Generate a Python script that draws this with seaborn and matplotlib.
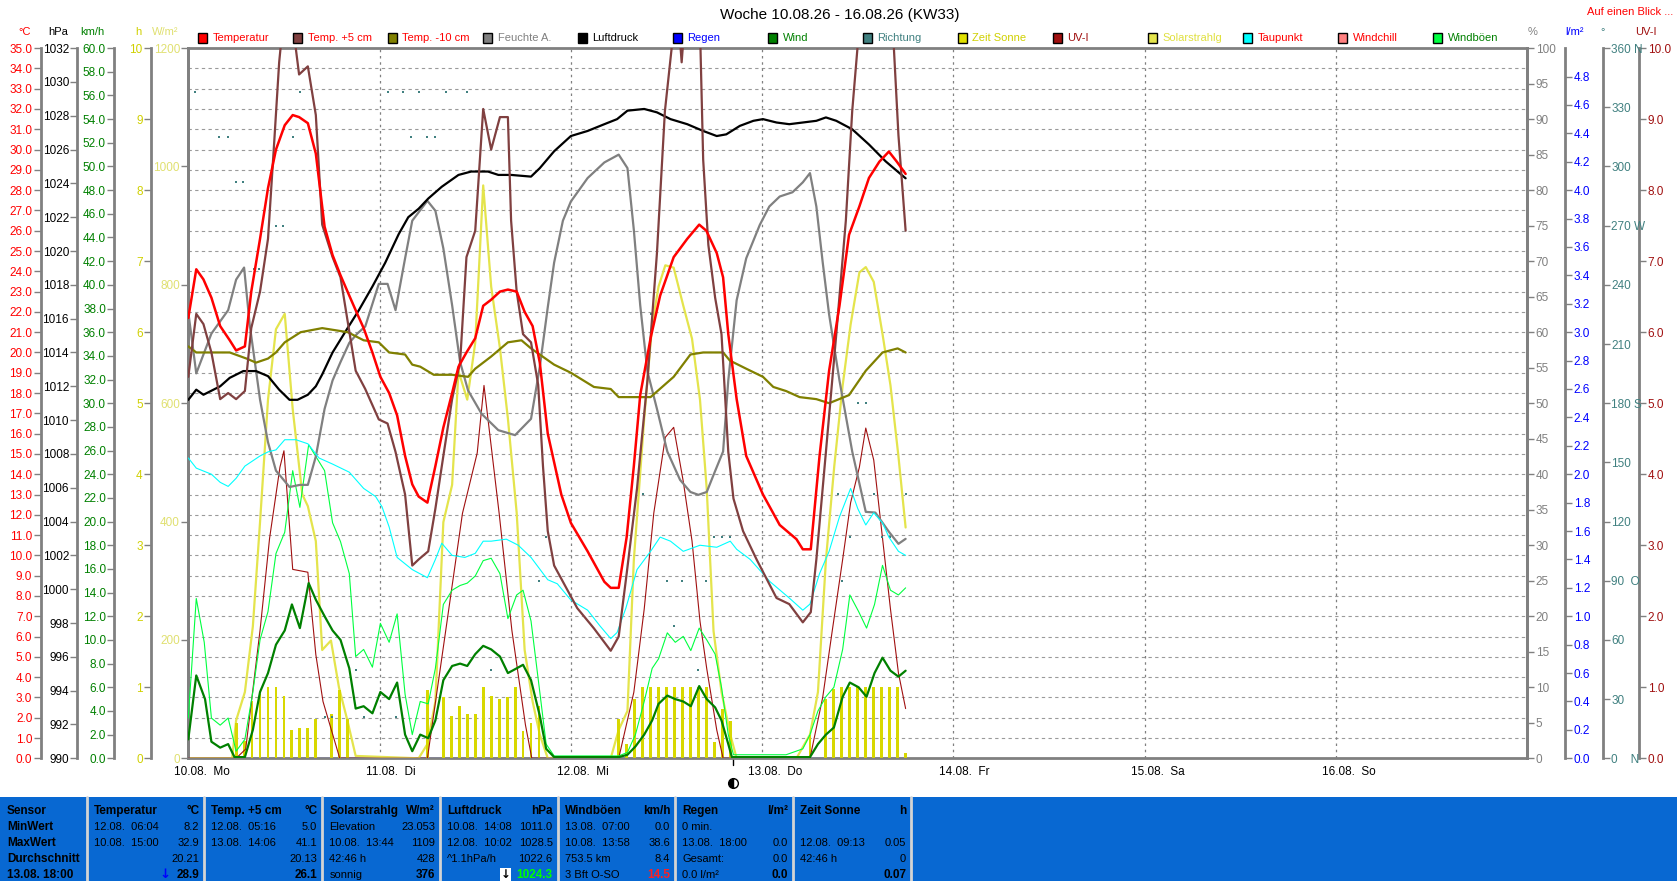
import numpy as np
import pandas as pd
import matplotlib
matplotlib.use("Agg")
import matplotlib.pyplot as plt
from matplotlib.patches import Rectangle
from matplotlib.transforms import blended_transform_factory
import seaborn as sns

# ---------------- data (hours since 10.08. 00:00, value) ----------------
temperature = [(0, 21.7), (1, 24.1), (1.9, 23.6), (2.9, 22.7), (4, 21.3), (5.2, 20.6), (6, 20.1), (7.1, 20.3),
               (7.9, 23.0), (9, 25.6), (10, 28.1), (11, 30.0), (12.1, 31.2), (13.1, 31.7), (13.9, 31.6), (15, 31.3),
               (16, 29.8), (17.1, 26.2), (18.1, 24.8), (19.1, 23.8), (20.2, 22.8), (21.2, 21.9), (22, 21.2),
               (23.1, 20.0), (24.1, 18.8), (25.2, 18.0), (26.2, 16.9), (27.2, 14.9), (28.1, 13.5), (28.9, 12.9),
               (30, 12.6), (31, 14.4), (32, 16.3), (33.1, 18.0), (33.9, 19.3), (34.9, 20.0), (36, 20.7), (37, 22.3),
               (38, 22.6), (39.1, 23.0), (40.1, 23.1), (41.2, 23.0), (42.2, 22.0), (43.2, 21.3), (44.1, 19.5),
               (45.1, 16.0), (46.8, 13.0), (48, 11.6), (50.1, 10.2), (52.2, 8.7), (53, 8.4), (54, 8.4), (55, 10.9),
               (55.9, 14.4), (56.7, 17.9), (58, 20.7), (59.2, 22.8), (60.9, 24.7), (62.6, 25.6), (64.1, 26.3),
               (65, 26.0), (66.3, 24.9), (67.1, 23.7), (67.75, 20.9), (68.8, 17.7), (70, 14.9), (72.1, 13.0),
               (74.2, 11.5), (76.3, 10.8), (77.1, 10.3), (78.1, 10.3), (79.2, 14.9), (80.4, 19.1), (81.7, 22.3),
               (82.9, 25.8), (84.2, 27.2), (85.4, 28.6), (86.7, 29.4), (87.9, 29.9), (88.9, 29.4), (90, 28.8)]

temp_plus5 = [(0, 18.8), (1, 21.9), (1.9, 21.4), (2.9, 20.0), (4, 17.7), (5, 18.0), (6, 17.7), (7.1, 18.1),
              (7.9, 21.2), (9, 23.0), (10, 25.6), (10.8, 30.5), (11.4, 34.3), (12.2, 37.5), (13.0, 36.5),
              (13.9, 33.7), (15, 34.1), (16, 31.7), (16.8, 26.3), (18.1, 24.7), (19.1, 23.7), (21, 19.1),
              (22.2, 18.2), (23.9, 16.7), (25, 16.5), (26, 15.1), (27.2, 13.0), (28.1, 9.5), (28.9, 9.8),
              (30.1, 10.2), (31, 12.3), (32, 14.9), (33.1, 17.7), (34.1, 19.5), (34.9, 24.7), (36, 26.0),
              (37, 32.0), (38, 30.0), (39.1, 31.6), (40.1, 31.6), (40.5, 26.5), (41.2, 23.0), (42, 20.9),
              (43, 20.5), (43.9, 18.4), (44.5, 14.4), (45.1, 11.2), (45.9, 9.5), (48.8, 7.4), (50.9, 6.4),
              (53, 5.3), (54, 6.0), (55, 9.1), (56.3, 13.3), (57.6, 18.6), (58.8, 24.9), (59.8, 31.9),
              (60.7, 35.2), (61.3, 37.5), (61.9, 34.3), (62.6, 38.0), (63.5, 39.5), (64.2, 36.0), (64.6, 29.5),
              (65.25, 25.3), (66.1, 22.7), (66.9, 20.9), (67.75, 15.1), (68.4, 12.8), (69.6, 11.2), (71.3, 9.8),
              (73.8, 7.9), (75.4, 7.6), (77.1, 6.7), (78.1, 7.2), (78.8, 9.8), (80, 15.1), (81.3, 20.9),
              (82.5, 26.5), (83.3, 31.9), (84, 35.2), (85, 39.0), (86.1, 41.1), (87.5, 39.5), (88.5, 35.2),
              (89.1, 30.7), (90, 26.0)]

temp_minus10 = [(0, 20.3), (1, 20.0), (5.2, 20.0), (7.3, 19.7), (8.5, 19.5), (10, 19.7), (11, 20.0), (12.1, 20.5),
                (14.1, 21.0), (16.8, 21.2), (20, 21.0), (22, 20.6), (23.9, 20.5), (25.2, 20.0), (27.2, 19.9),
                (28.1, 19.4), (29.1, 19.3), (30.8, 18.9), (33.1, 18.9), (35.1, 18.8), (36, 19.2), (38, 19.8),
                (40.1, 20.5), (41.8, 20.6), (43, 20.2), (45.9, 19.4), (48, 19.0), (50.9, 18.3), (53, 18.2),
                (54, 17.8), (58, 17.8), (60.9, 18.8), (63, 19.9), (64.6, 20.0), (67.1, 20.0), (67.95, 19.6),
                (70, 19.2), (72.1, 18.8), (73.4, 18.3), (75, 18.1), (76.7, 17.8), (78.8, 17.7), (80.4, 17.5),
                (82.9, 17.9), (85, 19.1), (87.1, 20.0), (89, 20.2), (90, 20.0)]

humidity = [(0, 62.8), (1, 54.2), (2.9, 59.8), (5, 63.1), (6, 67.4), (7, 69.1), (7.7, 61.1), (9, 50.5),
            (10, 44.5), (11, 40.5), (12.7, 38.2), (14, 38.5), (15, 38.5), (16, 42.5), (17.1, 49.2), (18.1, 53.2),
            (19.1, 55.8), (20.2, 58.5), (21.2, 59.8), (22.2, 60.8), (23.9, 66.8), (25, 66.8), (26, 63.1),
            (27.2, 70.4), (28.1, 75.7), (30, 78.5), (31, 77.1), (32, 71.8), (33.1, 63.8), (34.1, 55.8),
            (35.1, 51.8), (36.8, 48.5), (38.9, 46.2), (41, 45.5), (43, 47.8), (44.1, 55.1), (45.1, 63.5),
            (45.9, 69.8), (47, 75.7), (48, 78.4), (50.1, 81.7), (52.2, 83.9), (54, 85.0), (55.1, 83.1),
            (55.9, 74.4), (56.7, 63.8), (57.6, 54.5), (58.8, 49.2), (60.1, 43.2), (61.7, 39.2), (63, 37.5),
            (64, 37.1), (65.05, 37.5), (65.9, 39.9), (67.1, 43.2), (67.75, 53.2), (68.8, 64.5), (70, 70.4),
            (71.7, 75.1), (72.9, 77.7), (74.2, 79.1), (75.8, 79.7), (77.1, 81.1), (78, 82.4), (78.8, 77.7),
            (79.6, 69.8), (80.4, 62.5), (81.7, 53.2), (83.3, 43.2), (85, 34.7), (86.2, 34.6), (87.9, 31.9),
            (89.1, 30.2), (90, 30.9)]

pressure = [(0, 1011.2), (1, 1011.8), (1.9, 1011.5), (4, 1012.0), (5.2, 1012.5), (6.9, 1012.9), (8.5, 1012.9),
            (10, 1012.6), (11.4, 1011.8), (12.7, 1011.2), (13.7, 1011.2), (15, 1011.5), (16, 1012.0),
            (16.8, 1012.7), (18.1, 1014.0), (19.8, 1015.3), (21.4, 1016.5), (23.1, 1017.9), (24.7, 1019.3),
            (26.4, 1021.0), (27.6, 1022.0), (28.9, 1022.5), (30.1, 1023.1), (31.8, 1023.8), (33.9, 1024.5),
            (35.5, 1024.7), (37.6, 1024.7), (38.9, 1024.5), (40.5, 1024.5), (43, 1024.4), (44.1, 1024.9),
            (45.9, 1025.9), (48, 1026.8), (50.1, 1027.1), (52.2, 1027.5), (53.8, 1027.8), (55.1, 1028.3),
            (57.2, 1028.4), (58.8, 1028.2), (60.5, 1027.8), (62.6, 1027.5), (64.6, 1027.1), (66.3, 1026.8),
            (67.5, 1026.9), (69.2, 1027.4), (70.9, 1027.7), (72.1, 1027.8), (73.8, 1027.6), (75.4, 1027.5),
            (77.1, 1027.6), (78.8, 1027.7), (80, 1027.9), (81.3, 1027.7), (83.3, 1027.2), (85.4, 1026.3),
            (87.5, 1025.3), (90, 1024.3)]

dewpoint = [(0, 14.8), (1, 14.3), (2.9, 14.0), (4, 13.6), (5, 13.4), (6, 13.8), (7.1, 14.4), (9, 14.9),
            (10, 15.1), (11, 15.2), (12.1, 15.7), (13.5, 15.7), (15, 15.5), (16.4, 14.8), (18.1, 14.5),
            (20.2, 14.1), (22, 13.3), (23.5, 12.9), (24.3, 12.4), (25.2, 11.4), (26.2, 9.9), (28.1, 9.3),
            (30, 8.9), (31, 9.8), (31.8, 10.6), (33.1, 10.0), (34.7, 9.9), (36, 10.1), (37, 10.7), (38, 10.7),
            (39.9, 10.8), (41.4, 10.5), (43, 9.9), (45.1, 8.8), (46.3, 8.6), (48, 7.8), (50.1, 7.3), (51.7, 6.5),
            (53, 5.9), (53.8, 6.2), (54.9, 7.4), (56.3, 9.3), (58, 10.2), (59.2, 10.9), (60.5, 10.7),
            (62.1, 10.2), (64.2, 10.5), (66.3, 10.4), (68, 10.7), (68.8, 10.3), (70.5, 9.8), (73, 8.7),
            (75.4, 7.9), (77.1, 7.3), (78, 7.6), (79.2, 9.1), (80.4, 10.2), (81.7, 11.9), (83.1, 13.3),
            (84, 12.3), (85, 11.5), (86, 12.1), (87.1, 11.6), (87.9, 10.9), (89.1, 10.2), (90, 10.0)]

wind = [(0, 1.6), (1, 7.0), (2.1, 5.0), (2.9, 1.4), (4, 0.9), (5, 1.2), (5.8, 0.1), (7.1, 0.1), (8.1, 2.4),
        (9, 5.6), (10, 7.2), (11, 9.6), (12.1, 10.8), (13, 13.0), (14, 11.0), (15.1, 14.8), (16, 13.4),
        (17.1, 12.0), (18.1, 10.8), (19.1, 10.0), (20.2, 7.6), (21, 4.2), (22, 4.4), (23.1, 3.8), (24.1, 5.6),
        (25.2, 5.0), (26.2, 6.4), (27.2, 2.0), (28.1, 0.6), (29.1, 2.0), (30.1, 1.7), (31, 3.2), (32, 6.6),
        (33.1, 7.8), (34.1, 8.0), (35, 7.8), (36, 8.8), (37, 9.5), (38, 9.2), (39.1, 8.6), (40.1, 7.2),
        (41.2, 7.6), (42, 7.9), (43, 6.6), (44.1, 3.6), (44.9, 0.8), (45.9, 0.1), (54, 0.1), (55.1, 0.3),
        (56.1, 1.0), (57.2, 2.0), (58.2, 3.2), (59, 4.6), (60.1, 5.3), (61.1, 5.0), (62.1, 4.8), (63.05, 4.4),
        (64.1, 6.1), (65.05, 5.0), (66.1, 4.3), (66.9, 3.2), (67.75, 1.2), (68.2, 0.1), (78, 0.1), (79, 1.2),
        (80, 2.0), (81, 2.6), (82.1, 5.2), (83, 6.4), (84.1, 6.0), (85.1, 5.2), (86.1, 7.2), (87.1, 8.5),
        (88.1, 7.4), (89.1, 6.9), (90, 7.4)]

gusts = [(0, 3.4), (1, 13.5), (2, 9.8), (2.9, 3.4), (4, 2.8), (5, 3.4), (6, 0.6), (7.1, 1.6), (8.1, 5.6),
         (9, 10.0), (10, 12.4), (11, 17.3), (12.1, 19.1), (13.1, 24.3), (14, 21.2), (15.1, 26.5), (16, 25.5),
         (17.1, 24.3), (18.1, 19.9), (19.1, 18.3), (20.2, 15.6), (21, 8.6), (22, 9.2), (23.1, 7.7), (24.1, 11.4),
         (25.2, 9.8), (26.2, 12.2), (27.2, 5.4), (28.1, 2.0), (29.1, 4.8), (30.1, 4.6), (31, 7.6), (32, 13.0),
         (33.1, 14.2), (34.1, 14.6), (35, 14.8), (36, 15.4), (37, 16.7), (38, 16.9), (39.1, 15.6), (40.1, 11.8),
         (41.2, 13.8), (42, 14.2), (43, 11.6), (44.1, 5.6), (44.9, 1.2), (45.9, 0.2), (54, 0.2), (55.1, 0.5),
         (56.1, 2.0), (57.2, 4.8), (58.2, 7.6), (59, 8.4), (60.1, 10.6), (61.1, 9.8), (62.1, 10.3),
         (63.05, 9.1), (64.1, 11.0), (65.05, 10.0), (66.1, 8.8), (66.9, 6.0), (67.75, 2.0), (68.4, 0.3),
         (75, 0.3), (77.1, 0.8), (78, 2.0), (79, 4.0), (80, 5.2), (81, 6.0), (82.1, 9.2), (83, 13.8),
         (84.1, 12.4), (85.1, 11.0), (86.1, 13.0), (87.1, 16.3), (88.1, 14.2), (89.1, 13.8), (90, 14.4)]

solar = [(0, 0), (5.5, 0), (6, 64), (7.1, 112), (8.1, 223), (9, 399), (10, 606), (11, 725), (12.1, 751),
         (13.1, 590), (14.3, 446), (15, 426), (16, 367), (16.8, 183), (17.9, 199), (18.9, 120), (19.96, 64),
         (21, 4), (28.9, 0), (30, 24), (31, 96), (32, 399), (33.1, 462), (33.9, 654), (35, 606), (36, 702),
         (37, 968), (38, 797), (39.1, 693), (40.1, 574), (41.2, 415), (42.2, 183), (43.2, 96), (44.1, 40),
         (45.1, 0), (53, 0), (54, 48), (55.1, 80), (55.9, 335), (57.2, 574), (58.2, 733), (59, 797),
         (59.85, 833), (60.9, 829), (62.1, 765), (63.2, 709), (64.2, 606), (65.05, 454), (65.9, 215),
         (66.9, 112), (68, 40), (68.8, 0), (76.3, 0), (78, 40), (79, 112), (80, 335), (81.05, 494),
         (82.1, 630), (83.1, 733), (84.2, 821), (85, 830), (86, 805), (87.1, 717), (88.1, 630), (89.1, 510),
         (90, 390)]

uv_index = [(0, 0), (6, 0), (7.2, 0.13), (9, 1.8), (10.2, 3.1), (11.5, 4.1), (12, 4.33), (13.1, 2.66),
            (15, 2.62), (16, 1.46), (16.9, 0.8), (19, 0), (30, 0), (32.3, 1.8), (34.4, 3.45), (36.25, 4.3),
            (37.1, 5.25), (39, 3.45), (40.6, 1.8), (42.3, 0.47), (43.1, 0), (54, 0), (55.9, 0.93), (57.2, 2.1),
            (58.4, 3.45), (59.85, 4.52), (60.9, 4.66), (62.1, 3.9), (63.2, 3.06), (64.2, 1.93), (65.05, 1.26),
            (66.3, 0.4), (67.1, 0), (78, 0), (79.6, 0.86), (80.8, 1.8), (82.1, 2.8), (83.1, 3.6), (84.2, 4.1),
            (85, 4.65), (86, 4.2), (87.1, 3.1), (88.1, 2.1), (89.1, 1.2), (90, 0.7)]

sunshine = [(6, 0.5), (7, 0.25), (8, 0.8), (9, 0.9), (10, 1.0), (11, 1.0), (12, 0.88), (13, 0.4), (14, 0.43),
            (15, 0.43), (16, 0.55), (18, 0.63), (19, 0.96), (20, 0.55),
            (30, 0.96), (32, 0.86), (33, 0.6), (34, 0.74), (35, 0.63), (36, 0.63), (37, 1.0), (38, 0.88),
            (39, 0.83), (40, 0.86), (41, 1.0), (42, 0.39), (43, 0.5), (44, 0.73),
            (54, 0.55), (55, 0.2), (56, 0.83), (57, 1.0), (58, 1.0), (59, 1.0), (60, 1.0), (61, 1.0), (62, 1.0),
            (63, 1.0), (64, 1.0), (65, 1.0), (66, 0.23), (67, 0.7), (68, 0.53),
            (78, 0.33), (80, 0.83), (81, 0.97), (82, 1.0), (83, 1.0), (84, 1.0), (85, 1.0), (86, 1.0), (87, 1.0),
            (88, 1.0), (89, 1.0), (90, 0.07)]

direction = [(0.85, 338), (3.9, 315), (5.0, 315), (6.0, 292), (6.9, 292), (8.3, 248), (8.9, 248), (11.0, 270),
             (11.9, 270), (13.1, 315), (14.0, 338), (17.1, 21), (18.0, 21), (21.0, 45), (22.0, 21), (25.0, 338),
             (26.0, 21), (27.0, 338), (28.0, 315), (29.0, 338), (30.0, 315), (31.0, 315), (32.3, 338),
             (35.0, 338), (38.0, 45), (44.0, 90), (44.9, 112), (57, 134), (58, 225), (60, 90), (60.9, 67),
             (62, 90), (64, 45), (65, 90), (66, 112), (67, 112), (68, 112), (81.5, 134), (82, 90), (83, 112),
             (84, 180), (85, 180), (86, 134), (87, 112), (88, 112), (90, 134)]

rain = [(0, 0.0), (90, 0.0)]

day_labels = ["10.08.  Mo", "11.08.  Di", "12.08.  Mi", "13.08.  Do", "14.08.  Fr", "15.08.  Sa", "16.08.  So"]

legend_items = ["Temperatur", "Temp. +5 cm", "Temp. -10 cm", "Feuchte A.", "Luftdruck", "Regen", "Wind",
                "Richtung", "Zeit Sonne", "UV-I", "Solarstrahlg", "Taupunkt", "Windchill", "Windböen"]

table_headers = [("Sensor", ""), ("Temperatur", "°C"), ("Temp. +5 cm", "°C"), ("Solarstrahlg", "W/m²"),
                 ("Luftdruck", "hPa"), ("Windböen", "km/h"), ("Regen", "l/m²"), ("Zeit Sonne", "h")]
table_left = [["MinWert", "MaxWert", "Durchschnitt", "13.08. 18:00"],
              ["12.08.  06:04", "10.08.  15:00", "", ""],
              ["12.08.  05:16", "13.08.  14:06", "", ""],
              ["Elevation", "10.08.  13:44", "42:46 h", "sonnig"],
              ["10.08.  14:08", "12.08.  10:02", "^1.1hPa/h", ""],
              ["13.08.  07:00", "10.08.  13:58", "753.5 km", "3 Bft O-SO"],
              ["0 min.", "13.08.  18:00", "Gesamt:", "0.0 l/m²"],
              ["", "12.08.  09:13", "42:46 h", ""]]
table_right = [["", "", "", ""],
               ["8.2", "32.9", "20.21", "28.9"],
               ["5.0", "41.1", "20.13", "26.1"],
               ["23.053", "1109", "428", "376"],
               ["1011.0", "1028.5", "1022.6", "1024.3"],
               ["0.0", "38.6", "8.4", "14.5"],
               ["", "0.0", "0.0", "0.0"],
               ["", "0.05", "0", "0.07"]]

# ---------------- styling constants ----------------
C_TEMP, C_T5, C_T10 = "#ff0000", "#804040", "#808000"
C_HUM, C_PRES, C_RAIN = "#808080", "#000000", "#0000ff"
C_WIND, C_DIR, C_SUN = "#008000", "#408080", "#d8d800"
C_UV, C_SOLAR, C_DEW = "#a01010", "#e4e44c", "#00ffff"
C_CHILL, C_GUST = "#ff8080", "#00ff40"
GRAY = "#808080"

sns.set_theme(style="white")
plt.rcParams["font.family"] = ["Liberation Sans", "DejaVu Sans"]

W, H = 1677, 881
fig = plt.figure(figsize=(W / 100, H / 100), dpi=100)
L, R, T, B = 188.3, 1527.3, 48.1, 758.3
ax = fig.add_axes([L / W, 1 - B / H, (R - L) / W, (B - T) / H])
ax.set_xlim(0, 168)
ax.set_ylim(0, 35)
ax.set_zorder(0)
ax.set_yticks(np.arange(0, 36, 1))
ax.set_yticklabels([])
ax.set_xticks([])
ax.tick_params(axis="y", length=0)
ax.yaxis.grid(True, linestyle=(0, (3, 3)), color="#9a9a9a", linewidth=0.8)
for d in range(1, 7):
    ax.axvline(d * 24, color="#808080", linestyle=(0, (2, 3)), linewidth=0.9)
for s in ax.spines.values():
    s.set_color(GRAY)
    s.set_linewidth(2)


def side_axis(pos_px, side, lo, hi, ticks, labels, color, z):
    a = ax.twinx()
    a.set_zorder(z)
    a.patch.set_visible(False)
    a.set_ylim(lo, hi)
    for s in a.spines.values():
        s.set_visible(False)
    sp = a.spines[side]
    sp.set_visible(True)
    sp.set_position(("axes", (pos_px - L) / (R - L)))
    sp.set_color(GRAY)
    sp.set_linewidth(2)
    a.yaxis.set_ticks_position(side)
    a.set_yticks(ticks)
    a.set_yticklabels(labels)
    a.tick_params(axis="y", which="both", direction="out", length=5, width=1, color=GRAY,
                  labelcolor=color, labelsize=8.5, pad=1,
                  left=(side == "left"), right=(side == "right"),
                  labelleft=(side == "left"), labelright=(side == "right"))
    a.grid(False)
    a.set_ylabel("")
    return a


ax_sol = side_axis(188.3, "left", 0, 1200, np.arange(0, 1201, 200),
                   [str(v) for v in range(0, 1201, 200)], "#e0e070", 1)
ax_h = side_axis(151.0, "left", 0, 10, np.arange(0, 11, 1), [str(v) for v in range(11)], "#d0d000", 2)
ax_uv = side_axis(1639.3, "right", 0, 10, np.arange(0, 11, 1), [f"{v:.1f}" for v in range(11)], C_UV, 3)
ax_rain = side_axis(1565.3, "right", 0, 5, np.arange(0, 4.81, 0.2),
                    [f"{v:.1f}" for v in np.arange(0, 4.81, 0.2)], C_RAIN, 4)
deg_labels = {0: "0    N", 90: "90  O", 180: "180 S", 270: "270 W", 360: "360 N"}
ax_deg = side_axis(1602.7, "right", 0, 360, np.arange(0, 361, 30),
                   [deg_labels.get(v, str(v)) for v in range(0, 361, 30)], C_DIR, 5)
ax_kmh = side_axis(114.3, "left", 0, 60, np.arange(0, 61, 2), [f"{v:.1f}" for v in range(0, 61, 2)], C_WIND, 6)
ax_hum = side_axis(1527.3, "right", 0, 100, np.arange(0, 101, 5), [str(v) for v in range(0, 101, 5)], GRAY, 7)
ax_hpa = side_axis(77.3, "left", 990, 1032, np.arange(990, 1033, 2), [str(v) for v in range(990, 1033, 2)],
                   "#000000", 8)
ax_c = side_axis(40.7, "left", 0, 35, np.arange(0, 36, 1), [f"{v:.1f}" for v in range(36)], C_TEMP, 9)


def df(pairs):
    return pd.DataFrame(pairs, columns=["t", "v"])


def line(a, pairs, color, lw):
    d = df(pairs)
    sns.lineplot(data=d, x="t", y="v", ax=a, color=color, linewidth=lw, estimator=None, sort=False,
                 legend=False)
    a.set_xlabel("")
    a.set_ylabel("")


# sunshine bars
sd = df(sunshine)
ax_h.bar(sd["t"], sd["v"], width=0.36, color=C_SUN, linewidth=0)
line(ax_sol, solar, C_SOLAR, 1.6)
line(ax_uv, uv_index, C_UV, 0.8)
line(ax_rain, rain, C_RAIN, 0.8)
dd = df(direction)
sns.scatterplot(data=dd, x="t", y="v", ax=ax_deg, color=C_DIR, marker="s", s=2.2, linewidth=0, legend=False)
ax_deg.set_xlabel("")
ax_deg.set_ylabel("")
line(ax_kmh, gusts, C_GUST, 0.8)
line(ax_kmh, wind, C_WIND, 1.6)
line(ax_hum, humidity, C_HUM, 1.6)
line(ax_hpa, pressure, C_PRES, 1.6)
line(ax_c, dewpoint, C_DEW, 0.8)
line(ax_c, temp_minus10, C_T10, 1.6)
line(ax_c, temp_plus5, C_T5, 1.6)
line(ax_c, temperature, C_TEMP, 1.8)
for a in [ax_sol, ax_h, ax_uv, ax_rain, ax_deg, ax_kmh, ax_hum, ax_hpa, ax_c]:
    a.set_xlim(0, 168)

# day labels
trans = blended_transform_factory(ax.transData, ax.transAxes)
for i, lab in enumerate(day_labels):
    ax.text(i * 24 - 1.75, -0.0195, lab, transform=trans, ha="left", va="center", fontsize=8.5,
            color="black", clip_on=False)
# moon marker
ax.plot([68.4, 68.4], [0, -0.01], transform=trans, color="black", lw=1, clip_on=False)
ax.plot([68.4], [-0.035], transform=trans, marker="o", ms=7, color="black", mfc="black",
        fillstyle="left", markerfacecoloralt="white", mec="black", clip_on=False)

# title & header texts
fig.text(840 / W, 1 - 15 / H, "Woche 10.08.26 - 16.08.26 (KW33)", ha="center", va="center", fontsize=11,
         color="black")
fig.text(1630 / W, 1 - 12 / H, "Auf einen Blick ...", ha="center", va="center", fontsize=8, color="#ff0000")
units = [(25, "°C", C_TEMP), (58, "hPa", "#000000"), (92, "km/h", C_WIND), (138.5, "h", "#d0d000"),
         (165, "W/m²", "#e0e070"), (1532.5, "%", GRAY), (1575, "l/m²", C_RAIN), (1603, "°", C_DIR),
         (1646, "UV-I", C_UV)]
for x, s, c in units:
    fig.text(x / W, 1 - 32 / H, s, ha="center", va="center", fontsize=8, color=c)

# legend
sq_colors = [C_TEMP, C_T5, C_T10, C_HUM, C_PRES, C_RAIN, C_WIND, C_DIR, "#e0e000", C_UV, C_SOLAR, C_DEW,
             C_CHILL, C_GUST]
tx_colors = ["#ff0000", "#ff0000", "#ff0000", GRAY, "#000000", "#0000ff", "#008000", C_DIR, "#d0d000", C_UV,
             "#e0e040", "#ff0000", "#ff0000", "#008000"]
for i, lab in enumerate(legend_items):
    x = 198 + 95 * i
    fig.patches.append(Rectangle((x / W, 1 - 42.5 / H), 9 / W, 9 / H, transform=fig.transFigure,
                                 facecolor=sq_colors[i], edgecolor="black", linewidth=1))
    fig.text((x + 14.5) / W, 1 - 38 / H, lab, ha="left", va="center", fontsize=8, color=tx_colors[i])

# bottom table
TBL_TOP = 797
FS_B = 8.5
FS_R = 8
fig.patches.append(Rectangle((0, 0), 1, 1 - TBL_TOP / H, transform=fig.transFigure, facecolor="#0868d2",
                             edgecolor="none", zorder=0))
col_edges = [0, 87.3, 204.3, 322.3, 440.0, 557.7, 675.3, 793.0, 911.0]
for x in col_edges[1:]:
    fig.add_artist(plt.Line2D([x / W, x / W], [0, 1 - TBL_TOP / H], transform=fig.transFigure,
                              color="#d4d4d4", linewidth=2))
row_y = [811, 827, 842.5, 859, 875]
for ci, (h1, h2) in enumerate(table_headers):
    x0, x1 = col_edges[ci], col_edges[ci + 1]
    fig.text((x0 + 7) / W, 1 - row_y[0] / H, h1, ha="left", va="center", fontsize=FS_B, fontweight="bold",
             color="black")
    if h2:
        fig.text((x1 - 5) / W, 1 - row_y[0] / H, h2, ha="right", va="center", fontsize=FS_B,
                 fontweight="bold", color="black")
    for ri in range(4):
        y = 1 - row_y[ri + 1] / H
        left = table_left[ci][ri]
        if left:
            bold = (ci == 0)
            fig.text((x0 + 7) / W, y, left, ha="left", va="center", fontsize=FS_B if bold else FS_R,
                     fontweight="bold" if bold else "normal", color="black")
        right = table_right[ci][ri]
        if right:
            last = (ri == 3)
            col = "black"
            if last and ci == 4:
                col = "#00ff00"
            if last and ci == 5:
                col = "#ff2020"
            fig.text((x1 - 5) / W, y, right, ha="right", va="center", fontsize=FS_B if last else FS_R,
                     fontweight="bold" if last else "normal", color=col)
# arrows in the last row
fig.text((204.3 - 34) / W, 1 - row_y[4] / H, "↓", ha="right", va="center", fontsize=9.5, fontweight="bold",
         color="#0000ff", family=["DejaVu Sans"])
fig.text((557.7 - 47) / W, 1 - row_y[4] / H, "↓", ha="right", va="center", fontsize=8.5, fontweight="bold",
         color="black", family=["DejaVu Sans"],
         bbox=dict(boxstyle="square,pad=0.05", facecolor="white", edgecolor="none"))

fig.savefig("out.png", dpi=100, facecolor="white")
